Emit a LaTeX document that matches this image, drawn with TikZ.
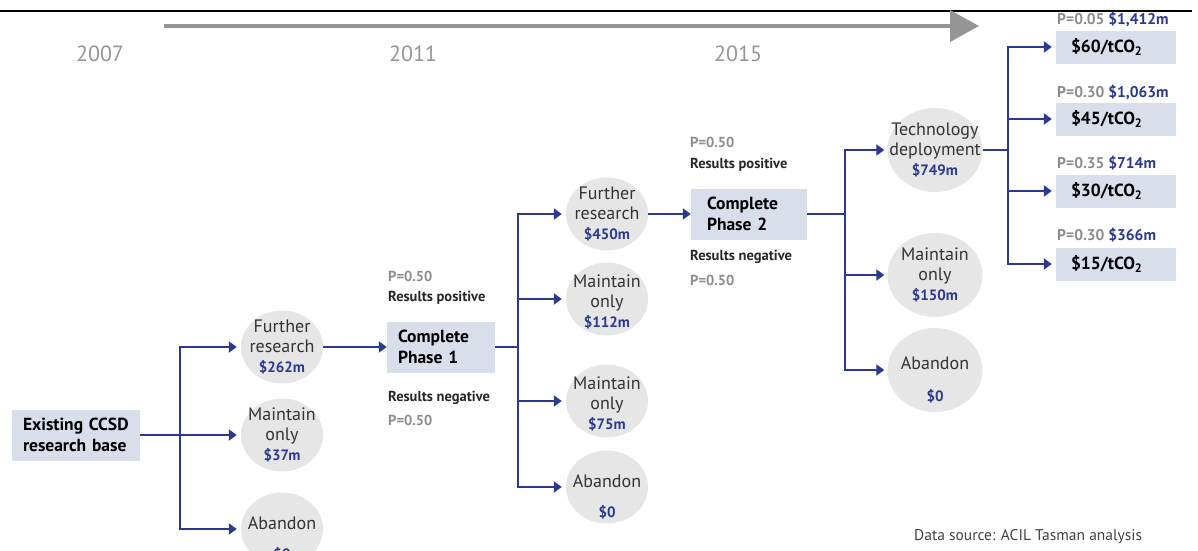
\documentclass[tikz,border=0pt]{standalone}
\usepackage{fontspec}
\setmainfont{PT Sans}
\usetikzlibrary{arrows.meta,shapes.geometric}

\definecolor{navy}{HTML}{2B3990}
\definecolor{boxfill}{HTML}{D9DEEB}
\definecolor{circfill}{HTML}{E6E6E6}
\definecolor{pgray}{HTML}{8C8C8C}
\definecolor{yeargray}{HTML}{959595}

\newcommand\circfont{\fontsize{18}{20}\selectfont}
\newcommand\boxfont{\fontsize{17.5}{21}\selectfont\bfseries}
\newcommand\probfont{\fontsize{14.5}{17}\selectfont\bfseries}
\newcommand\pricefont{\fontsize{15.5}{18}\selectfont\bfseries}
\newcommand\yearfont{\fontsize{22}{24}\selectfont}
\newcommand\val[1]{{\fontsize{15}{18}\selectfont\bfseries\color{navy}#1}}

\begin{document}
\begin{tikzpicture}[
    x=1pt, y=-1pt,
    >={Triangle[length=8pt,width=11pt]},
    flow/.style={draw=navy, line width=2pt, ->},
    link/.style={draw=navy, line width=2pt},
    stage/.style={fill=boxfill, minimum height=51pt, inner ysep=0pt, font=\boxfont, align=left},
    price/.style={fill=boxfill, minimum height=33pt, inner ysep=0pt, inner xsep=15pt, text width=90pt, font=\boxfont, align=left},
    choice/.style={ellipse, fill=circfill, minimum width=82pt, minimum height=73pt, inner sep=0pt},
    wide/.style={choice, minimum width=95pt, minimum height=84pt},
    ctext/.style={align=center, font=\circfont, text=black!80, inner sep=0pt},
    dtext/.style={ctext, yshift=-10pt},
    prob/.style={font=\probfont, text=pgray, anchor=west, inner sep=0pt},
    result/.style={font=\probfont, text=black!85, anchor=west, inner sep=0pt},
    year/.style={font=\yearfont, text=yeargray}
]
\useasboundingbox (0,0) rectangle (1198,550);

% Rule and time axis
\draw[line width=2.5pt] (0,11) -- (1192,11);
\coordinate (t0) at (164,26);
\coordinate (t1) at (979,26);
\draw[line width=4pt, yeargray, -{Triangle[length=29pt,width=31pt]}] (t0) -- (t1);
\node[year] (y2007) at (100,54) {2007};
\node[year] (y2011) at (413,54) {2011};
\node[year] (y2015) at (738,54) {2015};

% Stage 0
\node[stage, inner xsep=11pt, text width=106pt] (root) at (76,435) {Existing CCSD\\research base};
\node[choice, label={[ctext]center:Further\\research\\\val{\$262m}}] (fr1) at (282,347) {};
\node[choice, label={[ctext]center:Maintain\\only\\\val{\$37m}}] (mo1) at (282,435) {};
\node[choice, label={[dtext]center:Abandon\\[10pt]\val{\$0}}] (ab1) at (282,529) {};

% Stage 1
\node[stage, inner xsep=11pt, text width=86pt] (ph1) at (441,347) {Complete\\Phase 1};
\node[prob] (p1a) at (388,276) {P=0.50};
\node[result] (r1a) at (388,298) {Results positive};
\node[result] (r1b) at (388,398) {Results negative};
\node[prob] (p1b) at (388,420) {P=0.50};
\node[choice, label={[ctext]center:Further\\research\\\val{\$450m}}] (fr2) at (607,214) {};
\node[choice, label={[ctext, yshift=-3pt]center:Maintain\\only\\\val{\$112m}}] (mo2) at (607,299) {};
\node[choice, label={[ctext, yshift=-3pt]center:Maintain\\only\\\val{\$75m}}] (mo3) at (607,401) {};
\node[choice, label={[dtext]center:Abandon\\[10pt]\val{\$0}}] (ab2) at (607,487) {};

% Stage 2
\node[stage, inner xsep=16pt, text width=84pt] (ph2) at (749,214) {Complete\\Phase 2};
\node[prob] (p2a) at (690,142) {P=0.50};
\node[result] (r2a) at (690,165) {Results positive};
\node[result] (r2b) at (690,257) {Results negative};
\node[prob] (p2b) at (690,280) {P=0.50};
\node[wide, label={[ctext]center:Technology\\deployment\\\val{\$749m}}] (td) at (935,150) {};
\node[wide, label={[ctext]center:Maintain\\only\\\val{\$150m}}] (mo4) at (935,275) {};
\node[wide, label={[dtext]center:Abandon\\[12pt]\val{\$0}}] (ab3) at (935,370) {};

% Carbon prices
\node[price] (c60) at (1116,47) {\$60/tCO\textsubscript{2}};
\node[price] (c45) at (1116,119) {\$45/tCO\textsubscript{2}};
\node[price] (c30) at (1116,191) {\$30/tCO\textsubscript{2}};
\node[price] (c15) at (1116,264) {\$15/tCO\textsubscript{2}};
\node[prob, font=\pricefont] (q60) at (1057,19) {P=0.05 \textcolor{navy}{\$1,412m}};
\node[prob, font=\pricefont] (q45) at (1057,92) {P=0.30 \textcolor{navy}{\$1,063m}};
\node[prob, font=\pricefont] (q30) at (1057,163) {P=0.35 \textcolor{navy}{\$714m}};
\node[prob, font=\pricefont] (q15) at (1057,235) {P=0.30 \textcolor{navy}{\$366m}};

\node[font=\fontsize{15.5}{18}\selectfont, text=black!75, anchor=west, inner sep=0pt] (src) at (914,537) {Data source: ACIL Tasman analysis};

% Branches
\coordinate (j0) at (180,435);
\coordinate (j1) at (518,347);
\coordinate (j2) at (845,214);
\coordinate (j3) at (1008,150);

\draw[link] (root) -- (j0);
\draw[flow, shorten >=4pt] (j0) |- (fr1);
\draw[flow, shorten >=4pt] (j0) -- (mo1);
\draw[flow, shorten >=4pt] (j0) |- (ab1);
\draw[flow] (fr1) -- (ph1);

\draw[link] (ph1) -- (j1);
\draw[flow, shorten >=4pt] (j1) |- (fr2);
\draw[flow, shorten >=4pt] (j1) |- (mo2);
\draw[flow, shorten >=4pt] (j1) |- (mo3);
\draw[flow, shorten >=4pt] (j1) |- (ab2);
\draw[flow] (fr2) -- (ph2);

\draw[link] (ph2) -- (j2);
\draw[flow, shorten >=3pt] (j2) |- (td);
\draw[flow, shorten >=3pt] (j2) |- (mo4);
\draw[flow, shorten >=3pt] (j2) |- (ab3);

\draw[link] (td) -- (j3);
\draw[flow, shorten >=4pt] (j3) |- (c60);
\draw[flow, shorten >=4pt] (j3) |- (c45);
\draw[flow, shorten >=4pt] (j3) |- (c30);
\draw[flow, shorten >=4pt] (j3) |- (c15);
\end{tikzpicture}
\end{document}
